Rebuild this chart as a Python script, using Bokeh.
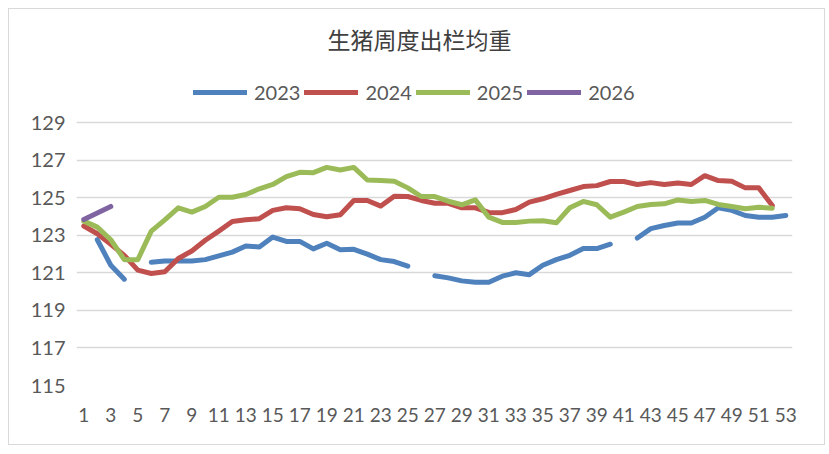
from bokeh.plotting import figure
from bokeh.models import Range1d, FixedTicker, Legend, LegendItem, Label
from bokeh.embed import file_html
from bokeh.resources import INLINE

nan = float("nan")

title_text = "生猪周度出栏均重"
weeks = list(range(1, 54))
x_tick_labels = list(range(1, 54, 2))
y_ticks = [115, 117, 119, 121, 123, 125, 127, 129]
series_names = ["2023", "2024", "2025", "2026"]

y2023 = [nan, 122.76, 121.40, 120.66, nan, 121.56, 121.63, 121.63, 121.63, 121.70,
         121.90, 122.10, 122.43, 122.37, 122.90, 122.67, 122.67, 122.27, 122.57, 122.23,
         122.25, 121.99, 121.70, 121.60, 121.35, nan, 120.84, 120.73, 120.57, 120.50,
         120.50, 120.82, 121.00, 120.90, 121.40, 121.70, 121.93, 122.29, 122.29, 122.52,
         nan, 122.85, 123.35, 123.52, 123.65, 123.65, 123.96, 124.46, 124.32, 124.05,
         123.96, 123.96, 124.05]
y2024 = [123.49, 123.08, 122.52, 121.93, 121.14, 120.96, 121.05, 121.76, 122.16, 122.73,
         123.22, 123.73, 123.82, 123.88, 124.32, 124.46, 124.41, 124.10, 123.98, 124.09,
         124.85, 124.85, 124.55, 125.08, 125.06, 124.85, 124.70, 124.70, 124.46, 124.46,
         124.21, 124.20, 124.37, 124.76, 124.94, 125.17, 125.38, 125.59, 125.64, 125.86,
         125.86, 125.70, 125.80, 125.70, 125.78, 125.70, 126.17, 125.91, 125.87, 125.52,
         125.52, 124.58, nan]
y2025 = [123.75, 123.43, 122.76, 121.70, 121.70, 123.22, 123.82, 124.46, 124.23, 124.53,
         125.02, 125.02, 125.17, 125.47, 125.70, 126.12, 126.35, 126.33, 126.61, 126.47,
         126.61, 125.94, 125.91, 125.87, 125.52, 125.06, 125.06, 124.81, 124.62, 124.88,
         123.96, 123.68, 123.68, 123.75, 123.77, 123.66, 124.46, 124.80, 124.62, 123.96,
         124.23, 124.53, 124.64, 124.67, 124.88, 124.80, 124.85, 124.64, 124.53, 124.41,
         124.49, 124.44, nan]
y2026 = [123.84, 124.18, 124.53] + [nan] * 50

colors = ["#4F81BD", "#C0504D", "#9BBB59", "#8064A2"]

W, H = 817, 437
ML, MR, MB = 67, 34, 61
frame_w = W - ML - MR
frame_h = H - MB
px_per_week = 13.5
x0 = 1 - 7.3 / px_per_week
x1 = x0 + frame_w / px_per_week
px_per_unit = 263 / 14.0
y_top = 115 + frame_h / px_per_unit

p = figure(width=W, height=H, output_backend="svg", toolbar_location=None,
           x_range=Range1d(x0, x1), y_range=Range1d(115, y_top),
           min_border_left=ML, min_border_right=MR, min_border_top=0,
           min_border_bottom=MB)
p.styles = {"margin": "8px", "border": "1px solid #d9d9d9"}
p.outline_line_color = None
p.background_fill_color = "white"
p.border_fill_color = "white"

FONT = "Lato"
LABEL_COLOR = "#595959"

p.xaxis.ticker = FixedTicker(ticks=x_tick_labels)
p.yaxis.ticker = FixedTicker(ticks=y_ticks)
for ax in (p.xaxis, p.yaxis):
    ax.axis_line_color = None
    ax.major_tick_line_color = None
    ax.minor_tick_line_color = None
    ax.major_tick_out = 0
    ax.major_tick_in = 0
    ax.major_label_text_font = FONT
    ax.major_label_text_color = LABEL_COLOR
p.yaxis.major_label_text_font_size = "20px"
p.xaxis.major_label_text_font_size = "19px"
p.yaxis.major_label_standoff = 11
p.xaxis.major_label_standoff = 22

p.xgrid.grid_line_color = None
p.ygrid.grid_line_color = "#d9d9d9"
p.ygrid.grid_line_width = 1.6
p.ygrid.ticker = FixedTicker(ticks=y_ticks)

renderers = []
for name, ys, c in zip(series_names, [y2023, y2024, y2025, y2026], colors):
    r = p.line(weeks, ys, line_color=c, line_width=5, line_cap="round", line_join="round")
    renderers.append(r)

legend = Legend(items=[LegendItem(label=n, renderers=[r]) for n, r in zip(series_names, renderers)],
                orientation="horizontal", location=(117, 281),
                glyph_width=54, glyph_height=20, label_standoff=7, spacing=4,
                padding=0, margin=0, border_line_color=None, background_fill_alpha=0,
                label_text_font=FONT, label_text_font_size="20px",
                label_text_color=LABEL_COLOR)
p.add_layout(legend, "center")

title_x = x0 + (419 - 9 - ML) / px_per_week
title_y = 115 + (frame_h - (38 - 9)) / px_per_unit
p.add_layout(Label(x=title_x, y=title_y, text=title_text, text_align="center",
                   text_baseline="middle", text_font="Noto Sans CJK SC",
                   text_font_size="23px", text_color="#404040"))

open("out.html", "w").write(file_html(p, INLINE))
